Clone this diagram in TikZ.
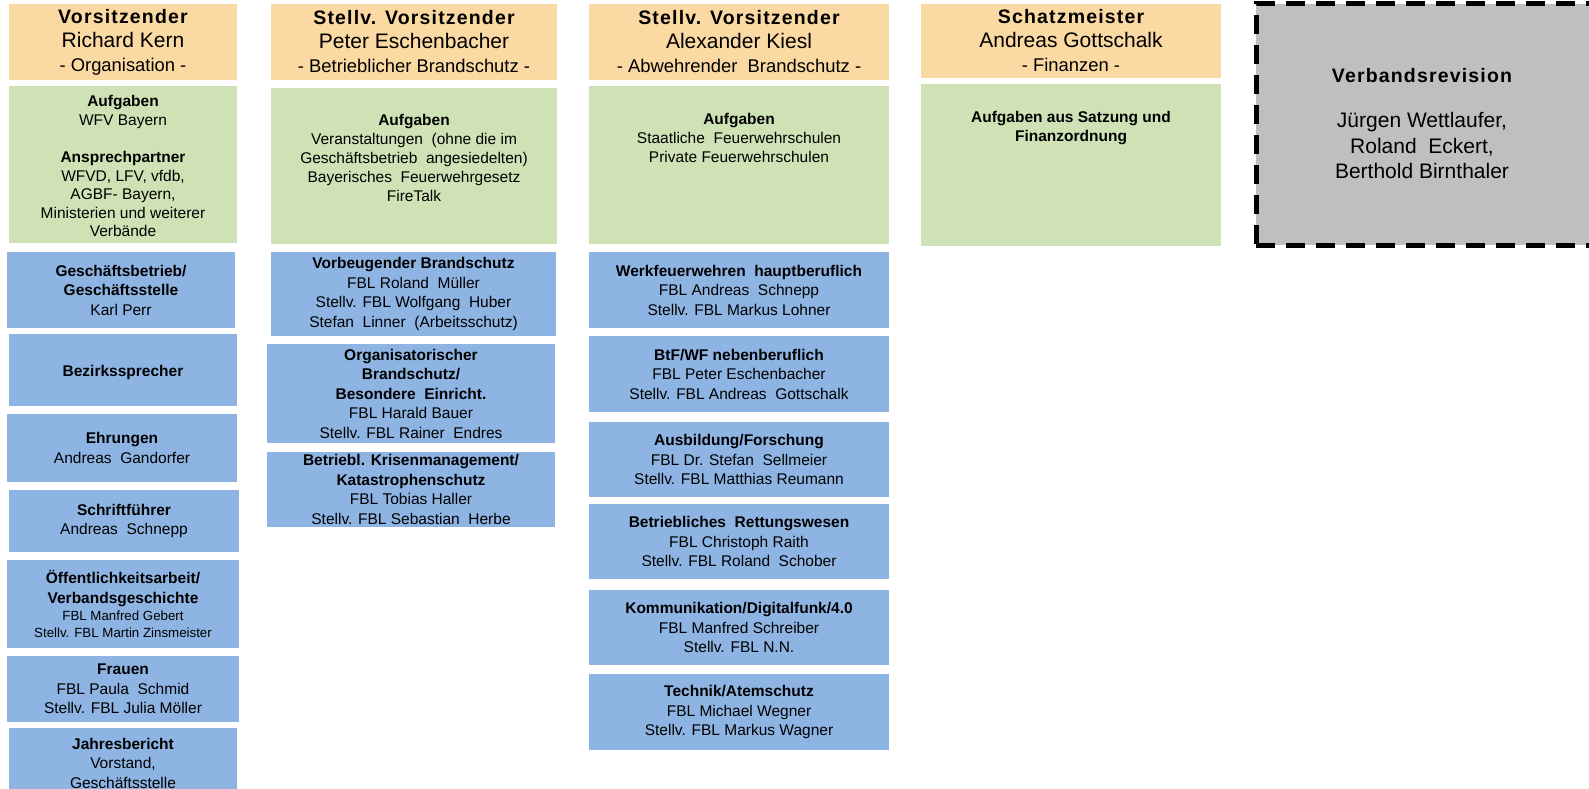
\documentclass[tikz,border=0pt]{standalone}
\usepackage{fontspec}
\setmainfont{Liberation Sans}
\newfontfamily\spacedfont[LetterSpace=6]{Liberation Sans}
\newcommand{\fsz}[2]{\fontsize{#1}{#2}\selectfont}
\usetikzlibrary{positioning}
\definecolor{hdrc}{HTML}{FAD9A3}
\definecolor{grnc}{HTML}{CFE2B6}
\definecolor{bluc}{HTML}{8EB4E3}
\definecolor{gryc}{HTML}{BFBFBF}
\tikzset{
  boxbase/.style={inner sep=0pt, outer sep=0pt, anchor=north west, align=center, text=black},
  hdr/.style={boxbase, fill=hdrc, font=\fsz{21}{24}, execute at begin node={\rule{0pt}{19.5pt}}},
  grn/.style={boxbase, fill=grnc},
  blu/.style={boxbase, fill=bluc, font=\fsz{15.5}{19.5}, execute at begin node={\rule{0pt}{#1}}},
  blu/.default=15.5pt,
  gtext/.style={inner sep=0pt, outer sep=0pt, anchor=north, align=center, text=black, font=\fsz{15.5}{19}},
  revbox/.style={boxbase, fill=gryc, draw=black, line width=5pt, dash pattern=on 19pt off 11pt},
}
\newcommand{\hd}[1]{{\spacedfont\bfseries\fsz{19.5}{24}#1}}
\newcommand{\sub}[1]{{\fsz{18.4}{24}#1}}
\begin{document}
\begin{tikzpicture}[x=1pt,y=-1pt]
\useasboundingbox (0,0) rectangle (1589,789);
% headers
\node[hdr, minimum width=228pt, minimum height=76pt] (h1) at (9,4) {\hd{Vorsitzender}\\Richard Kern\\\sub{- Organisation -}};
\node[hdr, minimum width=286pt, minimum height=76pt] (h2) at (271,4) {\hd{Stellv. Vorsitzender}\\Peter Eschenbacher\\\sub{- Betrieblicher Brandschutz -}};
\node[hdr, minimum width=300pt, minimum height=76pt] (h3) at (589,4) {\hd{Stellv. Vorsitzender}\\Alexander Kiesl\\\sub{- Abwehrender\ \ Brandschutz -}};
\node[hdr, minimum width=300pt, minimum height=74pt] (h4) at (921,4) {\hd{Schatzmeister}\\Andreas Gottschalk\\\sub{- Finanzen -}};
% green boxes
\node[grn, minimum width=228pt, minimum height=157pt] (g1) at (9,86) {};
\node[grn, minimum width=286pt, minimum height=156pt] (g2) at (271,88) {};
\node[grn, minimum width=300pt, minimum height=158pt] (g3) at (589,86) {};
\node[grn, minimum width=300pt, minimum height=162pt] (g4) at (921,84) {};
\node[gtext, font=\fsz{15.5}{18.6}, below=9.5pt of g1.north] (g1t) {\textbf{Aufgaben}\\WFV Bayern\\[18.6pt]\textbf{Ansprechpartner}\\WFVD, LFV, vfdb,\\AGBF- Bayern,\\Ministerien und weiterer\\Verbände};
\node[gtext, below=26.5pt of g2.north] (g2t) {\textbf{Aufgaben}\\Veranstaltungen\ \ (ohne die im\\Geschäftsbetrieb\ \ angesiedelten)\\Bayerisches\ \ Feuerwehrgesetz\\FireTalk};
\node[gtext, below=27pt of g3.north] (g3t) {\textbf{Aufgaben}\\Staatliche\ \ Feuerwehrschulen\\Private Feuerwehrschulen};
\node[gtext, below=27pt of g4.north] (g4t) {\textbf{Aufgaben aus Satzung und}\\\textbf{Finanzordnung}};
% Verbandsrevision
\node[revbox, minimum width=339pt, minimum height=241pt] (rev) at (1256,4) {};
\node[gtext, font=\fsz{21}{25.5}] (revt) at (1422,68) {{\spacedfont\bfseries\fsz{19.5}{25.5}Verbandsrevision}\\[20pt]Jürgen Wettlaufer,\\Roland\ \ Eckert,\\Berthold Birnthaler};
% column 1
\node[blu, minimum width=228pt, minimum height=76pt] (b1) at (7,252) {\textbf{Geschäftsbetrieb/}\\\textbf{Geschäftsstelle}\\Karl Perr};
\node[blu=17pt, minimum width=228pt, minimum height=72pt] (b2) at (9,334) {\textbf{Bezirkssprecher}};
\node[blu=17pt, minimum width=230pt, minimum height=68pt] (b3) at (7,414) {\textbf{Ehrungen}\\Andreas\ \ Gandorfer};
\node[blu=18pt, minimum width=230pt, minimum height=62pt] (b4) at (9,490) {\textbf{Schriftführer}\\Andreas\ \ Schnepp};
\node[blu, minimum width=232pt, minimum height=88pt] (b5) at (7,560) {\textbf{Öffentlichkeitsarbeit/}\\\textbf{Verbandsgeschichte}\\[-2pt]{\fsz{13.3}{16}FBL Manfred Gebert}\\[-3pt]{\fsz{13.3}{16}Stellv. FBL Martin Zinsmeister}};
\node[blu=17pt, minimum width=232pt, minimum height=66pt] (b6) at (7,656) {\textbf{Frauen}\\FBL Paula\ \ Schmid\\Stellv. FBL Julia Möller};
\node[blu=17pt, minimum width=228pt, minimum height=70pt] (b7) at (9,728) {\textbf{Jahresbericht}\\Vorstand,\\Geschäftsstelle};
% column 2
\node[blu=19.5pt, minimum width=285pt, minimum height=84pt] (c1) at (271,252) {\textbf{Vorbeugender Brandschutz}\\FBL Roland\ \ Müller\\Stellv. FBL Wolfgang\ \ Huber\\Stefan\ \ Linner\ \ (Arbeitsschutz)};
\node[blu=17pt, minimum width=288pt, minimum height=99pt] (c2) at (267,344) {\textbf{Organisatorischer}\\\textbf{Brandschutz/}\\\textbf{Besondere\ \ Einricht.}\\FBL Harald Bauer\\Stellv. FBL Rainer\ \ Endres};
\node[blu, minimum width=288pt, minimum height=75pt] (c3) at (267,452) {\textbf{Betriebl. Krisenmanagement/}\\\textbf{Katastrophenschutz}\\FBL Tobias Haller\\Stellv. FBL Sebastian\ \ Herbe};
% column 3
\node[blu=12pt, minimum width=300pt, minimum height=76pt] (d1) at (589,252) {\textbf{Werkfeuerwehren\ \ hauptberuflich}\\FBL Andreas\ \ Schnepp\\Stellv. FBL Markus Lohner};
\node[blu=13pt, minimum width=300pt, minimum height=76pt] (d2) at (589,336) {\textbf{BtF/WF nebenberuflich}\\FBL Peter Eschenbacher\\Stellv. FBL Andreas\ \ Gottschalk};
\node[blu=16pt, minimum width=300pt, minimum height=75pt] (d3) at (589,422) {\textbf{Ausbildung/Forschung}\\FBL Dr. Stefan\ \ Sellmeier\\Stellv. FBL Matthias Reumann};
\node[blu=16.5pt, minimum width=300pt, minimum height=75pt] (d4) at (589,504) {\textbf{Betriebliches\ \ Rettungswesen}\\FBL Christoph Raith\\Stellv. FBL Roland\ \ Schober};
\node[blu=16pt, minimum width=300pt, minimum height=75pt] (d5) at (589,590) {\textbf{Kommunikation/Digitalfunk/4.0}\\FBL Manfred Schreiber\\Stellv. FBL N.N.};
\node[blu=19.5pt, minimum width=300pt, minimum height=76pt] (d6) at (589,674) {\textbf{Technik/Atemschutz}\\FBL Michael Wegner\\Stellv. FBL Markus Wagner};
\end{tikzpicture}
\end{document}
